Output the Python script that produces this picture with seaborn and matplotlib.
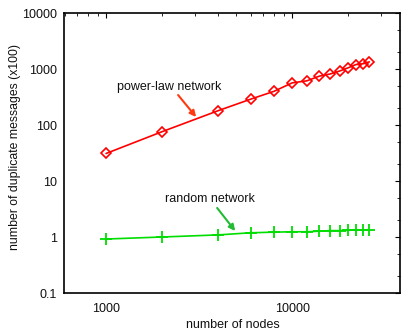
import matplotlib
matplotlib.use("Agg")
import matplotlib.pyplot as plt
import matplotlib.ticker as mticker
import seaborn as sns
import pandas as pd
import numpy as np

nodes = [1000, 2000, 4000, 6000, 8000, 10000, 12000, 14000, 16000,
         18000, 20000, 22000, 24000, 26000]
power_law = [31, 76, 180, 290, 400, 565, 615, 745, 815, 920, 1050,
             1200, 1240, 1340]
random_net = [0.92, 1.0, 1.09, 1.19, 1.22, 1.24, 1.24, 1.27, 1.30,
              1.30, 1.32, 1.33, 1.34, 1.35]
y_ticks = [0.1, 1, 10, 100, 1000, 10000]
y_tick_labels = ["0.1", "1", "10", "100", "1000", "10000"]
x_ticks = [1000, 10000]
x_tick_labels = ["1000", "10000"]

sns.set_style("white")
plt.rcParams['font.family'] = ['Liberation Sans', 'DejaVu Sans']

fig = plt.figure(figsize=(4.01, 3.33), dpi=100)
ax = fig.add_axes([64/401, 40/333, 336/401, 280/333])

df_p = pd.DataFrame({"nodes": nodes, "value": power_law})
df_r = pd.DataFrame({"nodes": nodes, "value": random_net})

sns.lineplot(data=df_p, x="nodes", y="value", ax=ax, color="#ff0000",
             lw=1.2, marker="D", markersize=5, markerfacecolor="none",
             markeredgecolor="#ff0000", markeredgewidth=1.2)
sns.lineplot(data=df_r, x="nodes", y="value", ax=ax, color="#00dd00",
             lw=1.2, marker="+", markersize=8, markeredgewidth=1.3,
             markeredgecolor="#00dd00")

ax.set_xscale("log")
ax.set_yscale("log")
ax.set_xlim(594, 38000)
ax.set_ylim(0.1, 10000)

ax.set_yticks(y_ticks)
ax.set_yticklabels(y_tick_labels)
ax.set_xticks(x_ticks)
ax.set_xticklabels(x_tick_labels)
ax.xaxis.set_minor_locator(mticker.LogLocator(base=10, subs=np.arange(2, 10), numticks=20))
ax.xaxis.set_minor_formatter(mticker.NullFormatter())
ax.yaxis.set_minor_locator(mticker.LogLocator(base=10, subs=[2, 5], numticks=20))
ax.yaxis.set_minor_formatter(mticker.NullFormatter())

ax.tick_params(which="both", direction="in", top=True, right=True,
               color="black", labelsize=9, labelcolor="#111111")
ax.tick_params(which="major", length=3.5, width=0.8, pad=5)
ax.tick_params(which="minor", length=2, width=0.6)
ax.tick_params(axis="x", which="major", pad=7)

for s in ax.spines.values():
    s.set_color("black")
    s.set_linewidth(1.2)
    s.set_visible(True)

ax.set_xlabel("number of nodes", fontsize=9, color="#111111")
ax.set_ylabel("number of duplicate messages (x100)", fontsize=8.8,
              color="#111111")
ax.xaxis.set_label_coords(169/336, -32/280)
ax.yaxis.set_label_coords(-49/336, 0.52)
ax.xaxis.label.set_va("center")
ax.yaxis.label.set_va("center")

ax.annotate("", xy=(3048, 139), xytext=(2438, 343),
            arrowprops=dict(arrowstyle="-|>", color="#ff3a10", lw=1.5,
                            mutation_scale=9, shrinkA=0, shrinkB=0))
ax.text(2183, 477, "power-law network", fontsize=9, ha="center",
        va="center", color="#111111")
ax.annotate("", xy=(4943, 1.28), xytext=(3954, 3.30),
            arrowprops=dict(arrowstyle="-|>", color="#22bb33", lw=1.5,
                            mutation_scale=9, shrinkA=0, shrinkB=0))
ax.text(3597, 4.78, "random network", fontsize=9, ha="center",
        va="center", color="#111111")

fig.savefig("out.png", dpi=100)
